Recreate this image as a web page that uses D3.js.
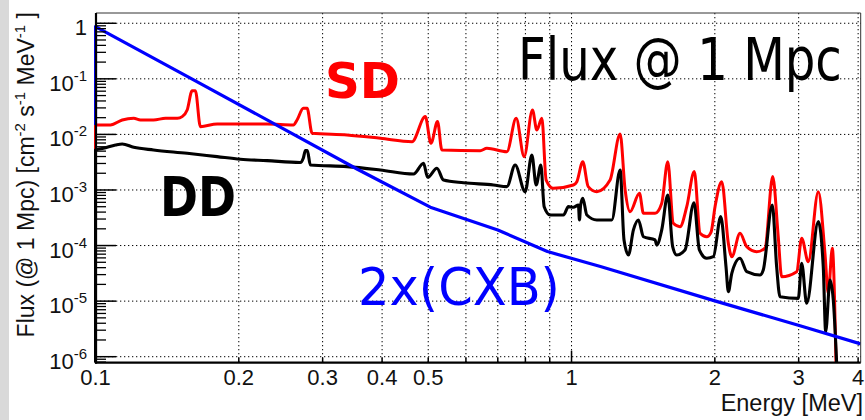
<!DOCTYPE html>
<html><head><meta charset="utf-8">
<script src="https://cdn.jsdelivr.net/npm/d3@7/dist/d3.min.js"></script>
<style>body{margin:0;background:#fff;} svg{display:block}</style>
</head><body><svg id="c" width="865" height="420"></svg>
<script>
// ---------- data ----------
const xTickValues = [0.1,0.2,0.3,0.4,0.5,0.6,0.7,0.8,0.9,1,2,3,4];
const xTickLabels = ["0.1","0.2","0.3","0.4","0.5","","","","","1","2","3","4"];
const xGridValues = [0.2,0.3,0.4,0.5,0.6,0.7,0.8,0.9,1,2,3,4];
const yTickExponents = [0,-1,-2,-3,-4,-5,-6];

const cxbEnergy = [0.1,0.1,0.16,0.245,0.355,0.505,0.70,0.89,1.15,2.0,3.02,4.05];
const cxbFlux   = [0.0148,0.87,0.098,0.0134,0.00236,0.00049,0.00019,0.000078,0.000042,0.0000101,0.0000036,0.0000017];

const sdEnergy = [0.1,0.1,0.1075,0.1138,0.1203,0.1243,0.1324,0.1403,0.1486,0.1521,0.1558,0.1596,0.1621,0.1661,0.1801,0.2293,0.2604,0.2651,0.2733,0.2783,0.2851,0.3376,0.3966,0.4622,0.4929,0.5067,0.523,0.5341,0.6429,0.664,0.7314,0.765,0.7952,0.8277,0.8456,0.8663,0.8845,0.9162,1.009,1.026,1.056,1.084,1.13,1.205,1.265,1.296,1.327,1.389,1.416,1.498,1.547,1.593,1.636,1.69,1.746,1.811,1.862,1.923,1.964,2.002,2.068,2.135,2.171,2.259,2.334,2.448,2.549,2.646,2.718,2.763,2.972,3.044,3.143,3.299,3.407,3.462,3.53,3.594];
const sdFlux   = [0.00525,0.0148,0.0148,0.0182,0.0195,0.0182,0.0182,0.0195,0.0195,0.0209,0.0275,0.0612,0.0612,0.0138,0.0154,0.0154,0.0148,0.0182,0.0295,0.0295,0.0105,0.00977,0.00852,0.0074,0.0209,0.00693,0.017,0.00525,0.0051,0.00563,0.00489,0.0195,0.00398,0.0275,0.012,0.0195,0.00151,0.00107,0.00123,0.00141,0.00323,0.00115,0.000932,0.00151,0.0102,0.001,0.000407,0.000873,0.000381,0.000381,0.000577,0.00323,0.000252,0.000219,0.000501,0.00214,0.000166,0.000144,0.000175,0.000501,0.00141,0.00011,0.0000631,0.000166,0.0000955,0.0000776,0.0000893,0.00174,0.000144,0.0000275,0.0000339,0.000135,0.0000513,0.000932,0.0000726,0.0000138,0.0000893,1e-9];

const ddEnergy = [0.1,0.1,0.1039,0.1102,0.1138,0.1203,0.1324,0.1558,0.1801,0.2015,0.2293,0.2693,0.2733,0.276,0.2786,0.2827,0.3376,0.3966,0.4658,0.4888,0.4984,0.5215,0.5383,0.5932,0.6856,0.7314,0.7613,0.799,0.8254,0.8427,0.8621,0.876,0.9017,0.9616,0.9852,1.009,1.034,1.039,1.045,1.056,1.077,1.13,1.215,1.265,1.289,1.317,1.349,1.382,1.416,1.498,1.51,1.547,1.593,1.631,1.663,1.731,1.808,1.856,1.923,1.986,2.058,2.111,2.135,2.171,2.259,2.334,2.488,2.528,2.641,2.697,2.741,2.995,3.044,3.119,3.299,3.379,3.419,3.491,3.547,3.605];
const ddFlux   = [1e-9,0.00525,0.00563,0.00646,0.00673,0.00587,0.00525,0.00458,0.00398,0.00357,0.00337,0.00313,0.00377,0.0051,0.0051,0.00282,0.00263,0.00229,0.00194,0.00302,0.00169,0.00246,0.00151,0.00135,0.00123,0.00115,0.00282,0.000932,0.00427,0.00123,0.00282,0.000501,0.000355,0.000355,0.000501,0.000488,0.000537,0.000289,0.000537,0.000709,0.000355,0.000289,0.000289,0.00229,0.000126,0.0000677,0.000191,0.000289,0.000144,0.000126,0.000102,0.000191,0.000813,0.0000955,0.0000677,0.0000832,0.000591,0.0000832,0.000059,0.0000631,0.000331,0.0000417,0.0000148,0.0000317,0.000059,0.0000339,0.0000296,0.0000364,0.000537,0.0000417,0.000012,0.0000112,0.000048,0.00000915,0.000269,0.0000417,0.00000282,0.000024,0.0000105,1e-9];

// ---------- layout ----------
const W = 865, H = 420;
const L = 96, R = 860.7, T = 13, B = 362.7;
const svg = d3.select("#c");
const x = d3.scaleLog().domain([0.1, 4.05]).range([95.5, R]);
const y = d3.scaleLog().domain([7.8e-7, 1.53]).range([B, T]).clamp(true);
const font = "'Liberation Sans', Arial, Helvetica, sans-serif";
const hand = "'Comic Sans MS', 'DejaVu Sans', 'Noto Sans', sans-serif";

svg.append("rect").attr("width", W).attr("height", H).attr("fill", "#fff");
svg.append("rect").attr("x", 0).attr("y", 0).attr("width", 9).attr("height", H).attr("fill", "#d9d9d9");

// grid
const grid = svg.append("g").attr("stroke", "#000").attr("stroke-width", 1).attr("stroke-dasharray", "1.3,2.7");
grid.selectAll("line.gx").data(xGridValues).join("line")
  .attr("x1", d => x(d)).attr("x2", d => x(d)).attr("y1", T).attr("y2", B);
grid.selectAll("line.gy").data(yTickExponents).join("line")
  .attr("x1", L).attr("x2", R).attr("y1", d => y(Math.pow(10, d))).attr("y2", d => y(Math.pow(10, d)));

// curves
svg.append("clipPath").attr("id", "pc").append("rect").attr("x", L - 2).attr("y", T).attr("width", R - L + 2).attr("height", B - T);
const smooth = d3.line().x(d => x(d[0])).y(d => y(d[1])).curve(d3.curveMonotoneX);
const straight = d3.line().x(d => x(d[0])).y(d => y(d[1]));
const plot = svg.append("g").attr("clip-path", "url(#pc)").attr("fill", "none").attr("stroke-linejoin", "round");
plot.append("path").datum(d3.zip(sdEnergy, sdFlux)).attr("d", smooth).attr("stroke", "#ff0000").attr("stroke-width", 3);
plot.append("path").datum(d3.zip(ddEnergy, ddFlux)).attr("d", smooth).attr("stroke", "#000").attr("stroke-width", 3.1);
plot.append("path").datum(d3.zip(cxbEnergy, cxbFlux)).attr("d", straight).attr("stroke", "#0000ff").attr("stroke-width", 3.2);

// frame
svg.append("line").attr("x1", L).attr("x2", R).attr("y1", T).attr("y2", T).attr("stroke", "#333").attr("stroke-width", 1);
svg.append("line").attr("x1", R).attr("x2", R).attr("y1", T).attr("y2", B).attr("stroke", "#333").attr("stroke-width", 1);

// y axis ticks
const yMinor = [];
for (let e = -7; e <= 0; e++) for (let m = 2; m <= 9; m++) { const v = m * Math.pow(10, e); if (v > 7.8e-7 && v < 1.53) yMinor.push(v); }
const ax = svg.append("g").attr("stroke", "#000");
ax.selectAll("line.ym").data(yMinor).join("line")
  .attr("x1", L).attr("x2", L + 10).attr("y1", d => y(d)).attr("y2", d => y(d)).attr("stroke-width", 1.3);
ax.selectAll("line.yM").data(yTickExponents).join("line")
  .attr("x1", L).attr("x2", L + 20).attr("y1", d => y(Math.pow(10, d))).attr("y2", d => y(Math.pow(10, d))).attr("stroke-width", 1.5);
// x ticks
ax.selectAll("line.xt").data(xTickValues).join("line")
  .attr("x1", d => x(d)).attr("x2", d => x(d)).attr("y1", B).attr("y2", d => (d === 1 ? B - 12 : B - 5)).attr("stroke-width", 1.5);
// axes lines
svg.append("line").attr("x1", L).attr("x2", L).attr("y1", T).attr("y2", B + 1).attr("stroke", "#000").attr("stroke-width", 2.2);
svg.append("line").attr("x1", L - 1).attr("x2", R).attr("y1", B).attr("y2", B).attr("stroke", "#000").attr("stroke-width", 2.2);

// tick labels
svg.selectAll("text.xl").data(d3.zip(xTickValues, xTickLabels).filter(d => d[1] !== "")).join("text")
  .attr("x", d => x(d[0])).attr("y", 385).attr("text-anchor", "middle")
  .attr("font-family", font).attr("font-size", 22).attr("fill", "#111").text(d => d[1]);
yTickExponents.forEach(e => {
  const t = svg.append("text").attr("x", 87).attr("y", y(Math.pow(10, e)) + 12).attr("text-anchor", "end")
    .attr("font-family", font).attr("font-size", 22).attr("fill", "#111");
  if (e === 0) { t.text("1"); }
  else { t.append("tspan").text("10"); t.append("tspan").attr("dy", -10).attr("font-size", 15).text(String(e)); }
});

// axis titles
svg.append("text").attr("x", 863).attr("y", 411).attr("text-anchor", "end")
  .attr("font-family", font).attr("font-size", 23.5).attr("fill", "#111").text("Energy [MeV]");
const yt = svg.append("text").attr("transform", "translate(34,12) rotate(-90)").attr("text-anchor", "end")
  .attr("font-family", font).attr("font-size", 23).attr("fill", "#111");
yt.append("tspan").text("Flux (@ 1 Mpc) [cm");
yt.append("tspan").attr("dy", -9).attr("font-size", 15).text("-2");
yt.append("tspan").attr("dy", 9).text(" s");
yt.append("tspan").attr("dy", -9).attr("font-size", 15).text("-1");
yt.append("tspan").attr("dy", 9).text(" MeV");
yt.append("tspan").attr("dy", -9).attr("font-size", 15).text("-1");
yt.append("tspan").attr("dy", 9).text(" ]");

// annotations (fit to the reference width with a horizontal scale)
const notes = [
  {t: "SD", x: 325, y: 98, w: 75, size: 50, fill: "#ff0000", weight: "bold"},
  {t: "DD", x: 160, y: 216, w: 76, size: 56, fill: "#000", weight: "bold"},
  {t: "Flux @ 1 Mpc", x: 518, y: 80, w: 324, size: 58, fill: "#000", weight: "normal"},
  {t: "2x(CXB)", x: 358, y: 305, w: 202, size: 52, fill: "#0000ff", weight: "normal"}
];
notes.forEach(d => {
  const t = svg.append("text").attr("x", 0).attr("y", 0).attr("font-family", hand).attr("font-size", d.size)
    .attr("font-weight", d.weight).attr("fill", d.fill).text(d.t);
  const len = t.node().getComputedTextLength();
  t.attr("transform", `translate(${d.x},${d.y}) scale(${d.w / len},1)`);
});
</script></body></html>
